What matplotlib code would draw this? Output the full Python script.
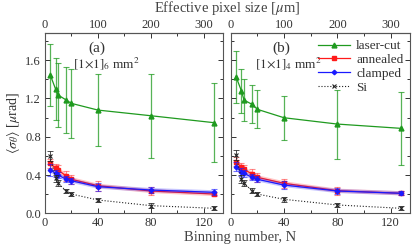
import matplotlib
matplotlib.use("Agg")
import matplotlib.pyplot as plt
import numpy as np

plt.rcParams['font.family'] = ['Liberation Serif', 'DejaVu Serif']
plt.rcParams['mathtext.fontset'] = 'stix'

N = [4, 8, 10, 16, 20, 40, 80, 128]

# Panel (a)
a_laser = [1.444, 1.297, 1.235, 1.183, 1.148, 1.078, 1.019, 0.946]
a_laser_err = [0.32, 0.32, 0.33, 0.34, 0.36, 0.38, 0.44, 0.41]
a_anneal = [0.522, 0.470, 0.452, 0.389, 0.355, 0.288, 0.233, 0.201]
a_anneal_err = [0.045, 0.05, 0.05, 0.05, 0.045, 0.05, 0.04, 0.025]
a_clamp = [0.452, 0.417, 0.400, 0.355, 0.340, 0.278, 0.243, 0.219]
a_clamp_err = [0.06, 0.04, 0.035, 0.03, 0.03, 0.04, 0.03, 0.03]
a_si = [0.598, 0.365, 0.313, 0.233, 0.201, 0.139, 0.080, 0.052]
a_si_err = [0.055, 0.04, 0.03, 0.025, 0.025, 0.025, 0.025, 0.02]

# Panel (b)
b_laser = [1.426, 1.280, 1.183, 1.138, 1.086, 0.998, 0.932, 0.887]
b_laser_err = [0.27, 0.23, 0.22, 0.20, 0.20, 0.23, 0.36, 0.38]
b_anneal = [0.539, 0.480, 0.459, 0.410, 0.376, 0.313, 0.236, 0.209]
b_anneal_err = [0.045, 0.05, 0.05, 0.05, 0.045, 0.05, 0.04, 0.02]
b_clamp = [0.487, 0.434, 0.417, 0.376, 0.355, 0.295, 0.233, 0.209]
b_clamp_err = [0.05, 0.04, 0.035, 0.03, 0.03, 0.04, 0.03, 0.02]
b_si = [0.609, 0.355, 0.313, 0.236, 0.201, 0.146, 0.087, 0.052]
b_si_err = [0.055, 0.04, 0.03, 0.025, 0.025, 0.025, 0.025, 0.02]

panel_labels = ['(a)', '(b)']
size_labels = [r'$[1{\times}1]_6$ mm$^2$', r'$[1{\times}1]_4$ mm$^2$']
series_names = ['laser-cut', 'annealed', 'clamped', 'Si']

GREEN = '#1f9a1f'
RED = '#ff1a1a'
BLUE = '#1a1aff'
TXT = '#333333'

fig = plt.figure(figsize=(4.15, 2.48), dpi=100)
axes = [fig.add_axes([45/415, 34.7/248, 178/415, 180/248]),
        fig.add_axes([230.7/415, 34.7/248, 179.3/415, 180/248])]

data = [(a_laser, a_laser_err, a_anneal, a_anneal_err, a_clamp, a_clamp_err, a_si, a_si_err),
        (b_laser, b_laser_err, b_anneal, b_anneal_err, b_clamp, b_clamp_err, b_si, b_si_err)]

for i, ax in enumerate(axes):
    lz, lze, an, ane, cl, cle, si, sie = data[i]
    # laser-cut
    ax.errorbar(N, lz, yerr=lze, fmt='none', ecolor=GREEN, elinewidth=0.9, capsize=2,
                capthick=0.8, alpha=0.75)
    ax.plot(N, lz, color=GREEN, marker='^', ms=3.5, lw=0.9, label=series_names[0])
    # annealed
    ax.plot(N, an, color=RED, lw=3.0, alpha=0.25, solid_capstyle='round')
    ax.errorbar(N, an, yerr=ane, fmt='none', ecolor=RED, elinewidth=0.8, capsize=2,
                capthick=0.8, alpha=0.5)
    ax.plot(N, an, color=RED, marker='s', ms=3.3, lw=0.9, label=series_names[1])
    # clamped
    ax.plot(N, cl, color=BLUE, lw=3.0, alpha=0.25, solid_capstyle='round')
    ax.errorbar(N, cl, yerr=cle, fmt='none', ecolor=BLUE, elinewidth=0.8, capsize=2,
                capthick=0.8, alpha=0.6)
    ax.plot(N, cl, color=BLUE, marker='D', ms=2.3, lw=0.9, label=series_names[2])
    # Si
    ax.errorbar(N, si, yerr=sie, fmt='none', ecolor='#222222', elinewidth=0.7, capsize=2,
                capthick=0.7, alpha=0.8)
    ax.plot(N, si, color='#222222', marker='x', ms=2.3, mew=0.8, lw=0.8, ls=':',
            label=series_names[3])

    ax.set_xlim(0, 134.5)
    ax.set_ylim(0, 1.88)
    ax.set_xticks([0, 40, 80, 120])
    ax.set_xticks(np.arange(20, 134, 40), minor=True)
    ax.set_yticks([0.0, 0.4, 0.8, 1.2, 1.6])
    ax.set_yticks([0.2, 0.6, 1.0, 1.4, 1.8], minor=True)
    ax.tick_params(which='both', direction='in', top=False, right=True,
                   labelsize=9, colors=TXT, width=0.7)
    ax.tick_params(which='major', length=3.5, pad=3)
    ax.tick_params(which='minor', length=2)
    for sp in ax.spines.values():
        sp.set_color('#555555')
        sp.set_linewidth(0.8)
    if i == 0:
        ax.set_yticklabels(['0.0', '0.4', '0.8', '1.2', '1.6'])
    else:
        ax.set_yticklabels([])

    sec = ax.secondary_xaxis('top', functions=(lambda n: n * 2.5, lambda p: p / 2.5))
    sec.set_xticks([0, 100, 200, 300])
    sec.set_xticks([50, 150, 250], minor=True)
    sec.tick_params(which='both', direction='in', labelsize=9, colors=TXT, width=0.7, pad=2)
    sec.tick_params(which='major', length=3.5)
    sec.tick_params(which='minor', length=2)
    sec.spines['top'].set_color('#555555')

    cx = [0.29, 0.285][i]
    ax.text(cx, 0.915, panel_labels[i], transform=ax.transAxes, ha='center', va='center',
            fontsize=11, color=TXT)
    ax.text([0.345, 0.32][i], 0.83, size_labels[i], transform=ax.transAxes, ha='center',
            va='center', fontsize=9.5, color=TXT)

axes[0].set_ylabel(r'$\langle\sigma_\theta\rangle$ [$\mu$rad]', fontsize=10, color=TXT, labelpad=2)

leg = axes[1].legend(loc='upper right', frameon=False, fontsize=9.5, labelspacing=0.12,
                     handlelength=2.4, handletextpad=0.5, borderaxespad=0.1,
                     bbox_to_anchor=(1.0, 1.0))
for t in leg.get_texts():
    t.set_color(TXT)

fig.text(227/415, 1 - 8/248, r'Effective pixel size [$\mu$m]', ha='center', va='center',
         fontsize=10.5, color='#444444')
fig.text(240/415, 1 - 238/248, 'Binning number, N', ha='center', va='center',
         fontsize=10.5, color='#444444')

fig.savefig('out.png', dpi=100)
